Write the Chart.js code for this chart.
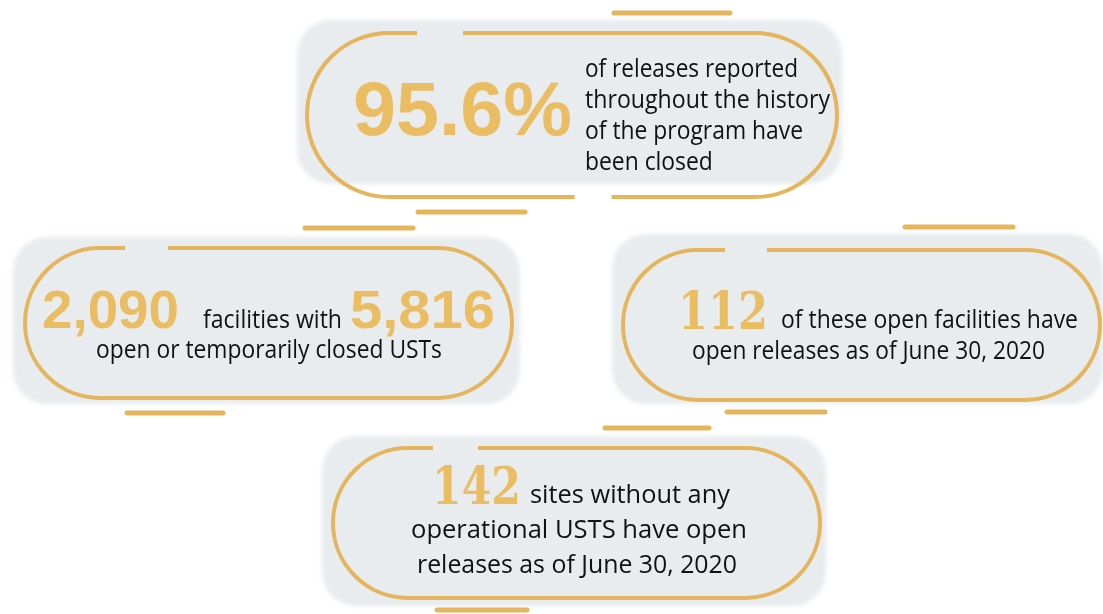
<!DOCTYPE html>
<html>
<head>
<meta charset="utf-8">
<script src="https://cdn.jsdelivr.net/npm/chart.js@4.4.0/dist/chart.umd.min.js"></script>
<style>
  html, body { margin: 0; padding: 0; background: #fff; }
  canvas { display: block; }
</style>
</head>
<body>
<canvas id="statsChart" width="1103" height="614"></canvas>
<script>
// figures and captions
var headlineFigures = ['95.6%', '2,090', '5,816', '112', '142'];
var captionLines = [
  ['of releases reported', 'throughout the history', 'of the program have', 'been closed'],
  ['facilities with', 'open or temporarily closed USTs'],
  ['of these open facilities have', 'open releases as of June 30, 2020'],
  ['sites without any', 'operational USTS have open', 'releases as of June 30, 2020']
];

// layout in the 1103x614 frame (left, top, right, bottom)
var pillBoxes = [[307, 33, 837, 197], [25, 248, 512, 398], [623, 250, 1100, 400], [333, 448, 820, 598]];
var pillBacks = [[297, 20, 842, 184], [13, 237, 520, 404], [612, 234, 1103, 404], [322, 436, 826, 606]];
var topGaps = [[417, 463], [125, 168], [725, 767], [433, 478]];
var bottomGaps = [[575, 612], null, null, null];
var dashesAbove = [[614, 730, 13], [305, 413, 228], [905, 1013, 227], [605, 709, 428]];
var dashesBelow = [[418, 525, 212], [127, 223, 413], [727, 825, 412], [437, 527, 610]];
// left, right, baseline, face, size
var figureSlots = [
  [353, 572, 135, 'sans', 76],
  [42, 179, 328, 'sans', 54],
  [350, 495, 328, 'sans', 54],
  [678, 768, 329, 'slab', 53],
  [432, 521, 504, 'slab', 53]
];
var captionSlots = [
  [[585, 798, 77], [585, 830, 108], [585, 803, 139], [585, null, 170]],
  [[203, 342, 328], [96, 442, 358]],
  [[781, 1078, 328], [692, 1045, 359]],
  [[530, 730, 503], [411, 747, 538], [417, 737, 573]]
];

var gold = '#EBBD63';
var goldLine = '#E5B55E';
var paleGrey = '#E8ECEE';

function drawFit(ctx, text, x, y, w, sx) {
  var m = ctx.measureText(text).width;
  var k = w ? w / m : (sx || 1);
  ctx.save();
  ctx.translate(x, y);
  ctx.scale(k, 1);
  ctx.fillText(text, 0, 0);
  ctx.restore();
  return k;
}

function strokePill(ctx, x1, y1, x2, y2, topGap, bottomGap) {
  var r = (y2 - y1) / 2, cy = (y1 + y2) / 2;
  var L = (x2 - x1) - 2 * r;
  var P = 2 * L + 2 * Math.PI * r;
  var gaps = [];
  if (topGap) gaps.push([topGap[0] - (x1 + r), topGap[1] - (x1 + r)]);
  if (bottomGap) {
    var base = L + Math.PI * r + (x2 - r);
    gaps.push([base - bottomGap[1], base - bottomGap[0]]);
  }
  var dash = [], pos = 0;
  gaps.forEach(function (g) {
    dash.push(g[0] - pos, g[1] - g[0]);
    pos = g[1];
  });
  dash.push(P - pos + 10, 0);
  ctx.save();
  ctx.setLineDash(dash);
  ctx.beginPath();
  ctx.moveTo(x1 + r, y1);
  ctx.lineTo(x2 - r, y1);
  ctx.arc(x2 - r, cy, r, -Math.PI / 2, Math.PI / 2);
  ctx.lineTo(x1 + r, y2);
  ctx.arc(x1 + r, cy, r, Math.PI / 2, Math.PI * 1.5);
  ctx.stroke();
  ctx.restore();
}

var pillPlugin = {
  id: 'pills',
  beforeDraw: function (chart) {
    var ctx = chart.ctx;
    var sx = chart.scales.x, sy = chart.scales.y;
    var X = function (v) { return sx.getPixelForValue(v); };
    var Y = function (v) { return sy.getPixelForValue(v); };
    ctx.save();
    ctx.fillStyle = '#fff';
    ctx.fillRect(0, 0, chart.width, chart.height);

    pillBacks.forEach(function (b) {
      ctx.save();
      ctx.filter = 'blur(2px)';
      ctx.fillStyle = paleGrey;
      ctx.beginPath();
      ctx.roundRect(X(b[0]), Y(b[1]), X(b[2]) - X(b[0]), Y(b[3]) - Y(b[1]), 34);
      ctx.fill();
      ctx.restore();
    });

    ctx.strokeStyle = goldLine;
    ctx.lineWidth = 4;
    pillBoxes.forEach(function (b, i) {
      var tg = topGaps[i] ? [X(topGaps[i][0]), X(topGaps[i][1])] : null;
      var bg = bottomGaps[i] ? [X(bottomGaps[i][0]), X(bottomGaps[i][1])] : null;
      strokePill(ctx, X(b[0]), Y(b[1]), X(b[2]), Y(b[3]), tg, bg);
    });

    ctx.lineWidth = 5;
    ctx.lineCap = 'round';
    dashesAbove.concat(dashesBelow).forEach(function (d) {
      ctx.beginPath();
      ctx.moveTo(X(d[0]), Y(d[2]));
      ctx.lineTo(X(d[1]), Y(d[2]));
      ctx.stroke();
    });
    ctx.restore();
  },
  afterDraw: function (chart) {
    var ctx = chart.ctx;
    var sx = chart.scales.x, sy = chart.scales.y;
    var X = function (v) { return sx.getPixelForValue(v); };
    var Y = function (v) { return sy.getPixelForValue(v); };
    ctx.save();
    ctx.textBaseline = 'alphabetic';
    ctx.textAlign = 'left';

    ctx.fillStyle = gold;
    headlineFigures.forEach(function (f, i) {
      var s = figureSlots[i];
      ctx.font = s[3] === 'slab' ? 'bold ' + s[4] + 'px "DejaVu Serif"' : 'bold ' + s[4] + 'px "Liberation Sans", Arial';
      drawFit(ctx, f, X(s[0]), Y(s[2]), X(s[1]) - X(s[0]));
    });

    ctx.fillStyle = '#111';
    ctx.font = '25px "Open Sans"';
    captionLines.forEach(function (lines, i) {
      var k = 1;
      lines.forEach(function (t, j) {
        var s = captionSlots[i][j];
        k = drawFit(ctx, t, X(s[0]), Y(s[2]), s[1] ? X(s[1]) - X(s[0]) : null, k);
      });
    });
    ctx.restore();
  }
};

var ctx = document.getElementById('statsChart').getContext('2d');
var statsChart = new Chart(ctx, {
  type: 'scatter',
  data: { datasets: [] },
  options: {
    responsive: false,
    animation: false,
    events: [],
    layout: { padding: 0 },
    plugins: { legend: { display: false }, tooltip: { enabled: false } },
    scales: {
      x: { type: 'linear', min: 0, max: 1103, display: false },
      y: { type: 'linear', min: 0, max: 614, reverse: true, display: false }
    }
  },
  plugins: [pillPlugin]
});
</script>
</body>
</html>
